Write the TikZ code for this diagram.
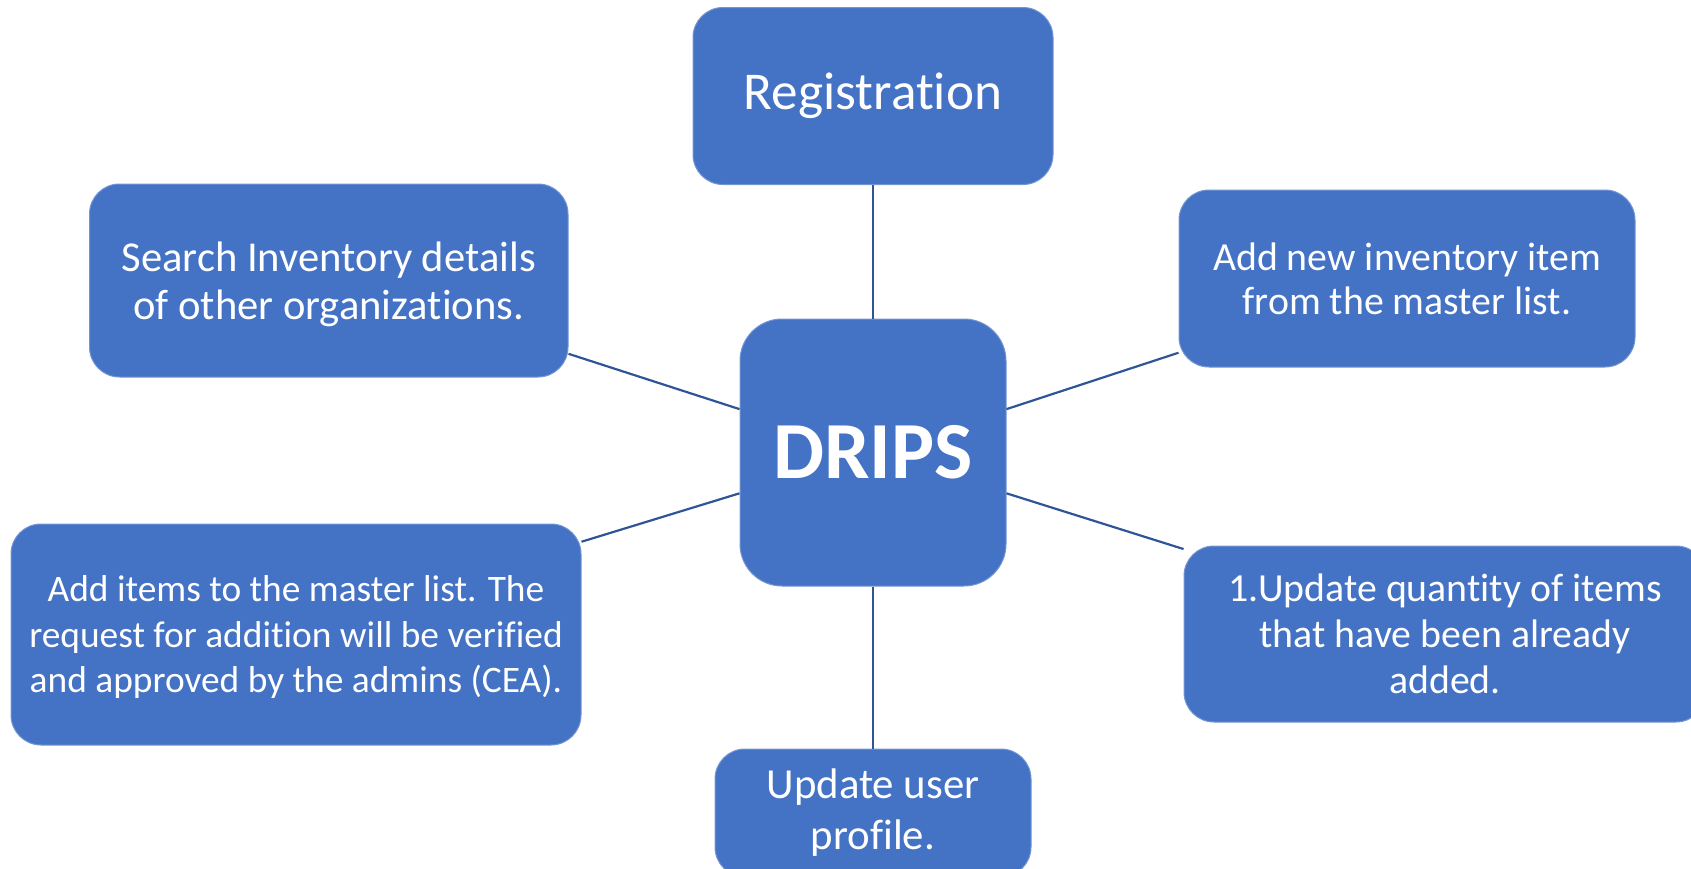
\documentclass[tikz,border=0pt]{standalone}
\usepackage{fontspec}
\setmainfont{Carlito}[Ligatures=NoCommon]
\usepackage{tikz}
\usetikzlibrary{positioning,calc}
\definecolor{dripsblue}{HTML}{4472C4}
\definecolor{linkblue}{HTML}{2F5597}
\tikzset{
    every picture/.style={line width=0.5pt},
    feature/.style={rectangle,rounded corners=15pt,fill=dripsblue,draw=dripsblue!75!white,
        text=white,align=center,inner sep=0pt},
    link/.style={draw=linkblue,line width=1.1pt}
}

\begin{document}
\begin{tikzpicture}[x=0.5pt,y=-0.5pt]
    \useasboundingbox (0,0) rectangle (1691,868);
    \clip (0,0) rectangle (1691,868);

    % DRIPS feature map
    \node[feature,minimum width=133pt,minimum height=133.5pt,rounded corners=21pt,
          font=\fontsize{40.5}{48}\selectfont\bfseries] (drips) at (873,452.5) {DRIPS};
    \node[feature,minimum width=180pt,minimum height=88.5pt,
          font=\fontsize{26.6}{32}\selectfont] (reg) at (873,96) {Registration};
    \node[feature,minimum width=239.25pt,minimum height=96.5pt,text depth=0pt,
          font=\fontsize{21.3}{24}\selectfont] (search) at (328.75,280.5)
          {Search Inventory details\\of other organizations.};
    \node[feature,minimum width=228pt,minimum height=88.5pt,
          font=\fontsize{19.9}{22}\selectfont] (newitem) at (1407,278.5)
          {Add new inventory item\\from the master list.};
    \node[feature,minimum width=285pt,minimum height=110.5pt,text depth=0pt,
          font=\fontsize{18.7}{22.75}\selectfont] (additems) at (296,634.5)
          {Add items to the master list. The\\request for addition will be verified\\and approved by the admins (CEA).};
    \node[feature,minimum width=261pt,minimum height=88pt,
          font=\fontsize{19.9}{23}\selectfont] (quantity) at (1445,634)
          {1.Update quantity of items\\that have been already\\added.};
    \node[feature,minimum width=158pt,minimum height=64pt,
          font=\fontsize{21.4}{25.5}\selectfont] (profile) at (873,813)
          {Update user\\profile.};

    % connectors
    \draw[link] (reg.south) -- (drips.north);
    \draw[link] (drips.south) -- (profile.north);
    \draw[link] (drips.162.3) -- (search.-17.7);
    \draw[link] (drips.197.7) -- (additems.18);
    \draw[link] (drips.18.5) -- (newitem.198);
    \draw[link] (drips.-17.7) -- (quantity.162.9);
\end{tikzpicture}
\end{document}
